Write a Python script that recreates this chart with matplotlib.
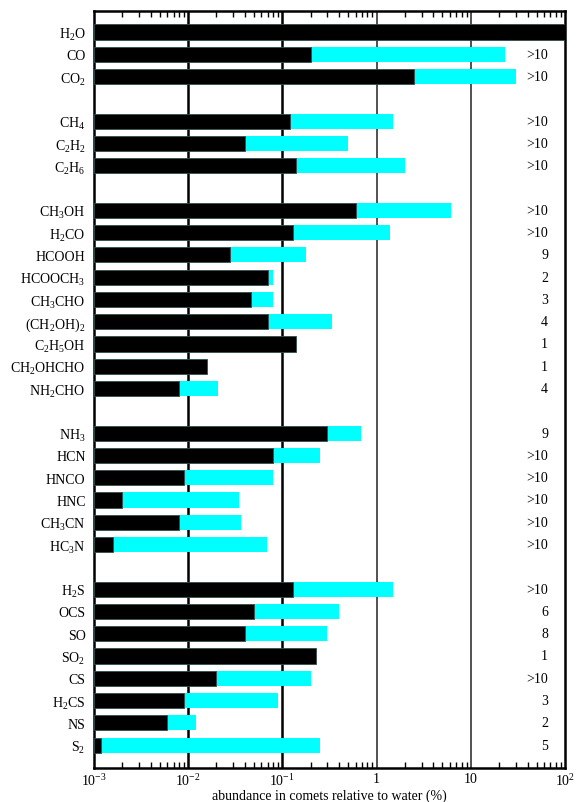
import numpy as np
import matplotlib
matplotlib.use("Agg")
import matplotlib.pyplot as plt
from matplotlib.ticker import LogLocator, NullFormatter

plt.rcParams['font.family'] = ['Liberation Serif', 'DejaVu Serif']
plt.rcParams['mathtext.fontset'] = 'custom'
plt.rcParams['mathtext.rm'] = 'Liberation Serif'
plt.rcParams['mathtext.it'] = 'Liberation Serif:italic'

# molecule labels, row slot (gaps between groups), lower value, upper value, n comets
molecules = [r'H$_2$O', 'CO', r'CO$_2$',
             r'CH$_4$', r'C$_2$H$_2$', r'C$_2$H$_6$',
             r'CH$_3$OH', r'H$_2$CO', 'HCOOH', r'HCOOCH$_3$', r'CH$_3$CHO',
             r'(CH$_2$OH)$_2$', r'C$_2$H$_5$OH', r'CH$_2$OHCHO', r'NH$_2$CHO',
             r'NH$_3$', 'HCN', 'HNCO', 'HNC', r'CH$_3$CN', r'HC$_3$N',
             r'H$_2$S', 'OCS', 'SO', r'SO$_2$', 'CS', r'H$_2$CS', 'NS', r'S$_2$']
slots = [0, 1, 2,
         4, 5, 6,
         8, 9, 10, 11, 12, 13, 14, 15, 16,
         18, 19, 20, 21, 22, 23,
         25, 26, 27, 28, 29, 30, 31, 32]
low = [100, 0.20, 2.5,
       0.12, 0.04, 0.14,
       0.6, 0.13, 0.028, 0.07, 0.047, 0.07, 0.14, 0.016, 0.008,
       0.30, 0.08, 0.009, 0.002, 0.008, 0.0016,
       0.13, 0.05, 0.04, 0.23, 0.02, 0.009, 0.006, 0.0012]
high = [100, 23, 30,
        1.5, 0.5, 2.0,
        6.2, 1.4, 0.18, 0.08, 0.08, 0.34, 0.14, 0.016, 0.021,
        0.68, 0.25, 0.08, 0.035, 0.036, 0.068,
        1.5, 0.4, 0.30, 0.23, 0.20, 0.09, 0.012, 0.25]
ncomets = ['', '>10', '>10',
           '>10', '>10', '>10',
           '>10', '>10', '9', '2', '3', '4', '1', '1', '4',
           '9', '>10', '>10', '>10', '>10', '>10',
           '>10', '6', '8', '1', '>10', '3', '2', '5']

xmin = 1e-3
low = np.array(low)
high = np.array(high)
slots = np.array(slots)

fig = plt.figure(figsize=(5.76, 8.03), dpi=100)
ax = fig.add_axes([0.163, 0.0423, 0.818, 0.9427])
ax.set_xscale('log')

# reference lines behind the bars
for v, lw, c in [(1e-2, 1.8, 'black'), (1e-1, 1.8, 'black'), (1, 1.2, '#333333'), (10, 1.2, '#333333')]:
    ax.axvline(v, color=c, lw=lw, zorder=0)

h = 0.68
ax.barh(slots, high - low, left=low, height=h, color='#00ffff', edgecolor='none', zorder=2)
ax.barh(slots, low - xmin, left=xmin, height=h, color='black', edgecolor='#2f4f4f', lw=0.6, zorder=3)

for s, n in zip(slots, ncomets):
    ax.text(0.964, s, n, transform=ax.get_yaxis_transform(), ha='right', va='center', fontsize=10)

ax.set_xlim(1e-3, 1e2)
ax.set_ylim(33.03, -0.94)
ax.set_yticks(slots)
ax.set_yticklabels(molecules, fontsize=10)
ax.tick_params(axis='y', length=0, pad=6)

ax.set_xticks([1e-3, 1e-2, 1e-1, 1, 10, 100])
ax.set_xticklabels([r'10$^{-3}$', r'10$^{-2}$', r'10$^{-1}$', '1', '10', r'10$^2$'], fontsize=10)
ax.xaxis.set_minor_locator(LogLocator(base=10, subs=np.arange(2, 10)))
ax.xaxis.set_minor_formatter(NullFormatter())
ax.tick_params(axis='x', which='both', direction='in', top=True, bottom=True)
ax.tick_params(axis='x', which='major', length=0, pad=3)
ax.tick_params(axis='x', which='minor', length=4, width=1)
ax.set_xlabel('abundance in comets relative to water (%)', fontsize=10, labelpad=0)

for sp in ax.spines.values():
    sp.set_linewidth(1.8)

fig.savefig('out.png', dpi=100)
